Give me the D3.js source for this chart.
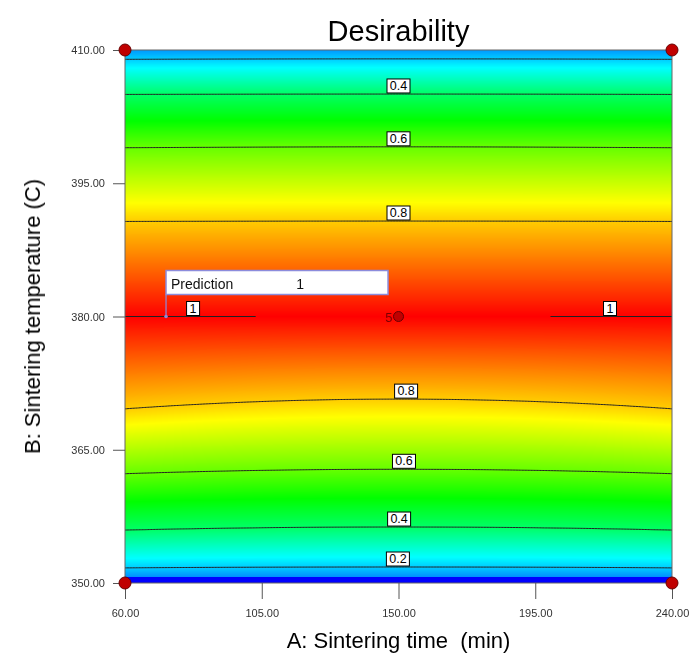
<!DOCTYPE html>
<html lang="en">
<head>
<meta charset="UTF-8">
<title>Desirability</title>
<script src="https://d3js.org/d3.v7.min.js"></script>
<style>
  body { margin: 0; background: #fff; font-family: Arial, "Liberation Sans", sans-serif; }
  #wrap { position: relative; width: 690px; height: 655px; }
  #field { position: absolute; left: 125px; top: 50px; }
  svg { position: absolute; left: 0; top: 0; }
</style>
</head>
<body>
<div id="wrap">
  <canvas id="field"></canvas>
  <svg id="chart" width="690" height="655"></svg>
</div>
<script>
// axis ticks
const timeTicks = [60, 105, 150, 195, 240];
const tempTicks = [350, 365, 380, 395, 410];

// desirability profile along B at A = 150 (mid) and at A = 60 / 240 (edge)
const profD     = [0,   0,      0.14,   0.2,   0.4,    0.6,   0.8,   1,   0.8,    0.6,   0.4,    0.2,    0.15];
const profTmid  = [350, 350.68, 350.69, 351.8, 356.3,  362.8, 370.7, 380, 390.75, 399.1, 405.05, 409.0,  410];
const profTedge = [350, 350.68, 350.69, 351.7, 355.95, 362.3, 369.6, 380, 390.7,  399.0, 405.0,  408.95, 410];

const contourLevels = [0.2, 0.4, 0.6, 0.8];

// the level 1 line only shows up near the edges, at B = 380
const oneT = 380;
const oneSegments = [[60, 103], [200, 240]];

// contour labels
const labelLevels = [0.4, 0.6, 0.8, 0.8, 0.6, 0.4, 0.2, 1, 1];
const labelA      = [150, 150, 150, 152.5, 151.8, 150.2, 149.8, 82.4, 219.6];
const labelSide   = ["top", "top", "top", "bottom", "bottom", "bottom", "bottom", "mid", "mid"];

// design points
const cornerA = [60, 60, 240, 240];
const cornerT = [350, 410, 350, 410];
const centerA = 150, centerT = 380, centerReps = 5;

// prediction flag
const predA = 73.5, predT = 380, predValue = 1;

const margin = {left: 125, top: 50, right: 18, bottom: 72};
const W = 690, H = 655;
const pw = W - margin.left - margin.right;   // 547
const ph = H - margin.top - margin.bottom;   // 533

const x = d3.scaleLinear().domain([60, 240]).range([margin.left, margin.left + pw]);
const y = d3.scaleLinear().domain([350, 410]).range([margin.top + ph, margin.top]);

const colour = d3.scaleLinear()
    .domain([0, 0.25, 0.5, 0.75, 1])
    .range(["#0000ff", "#00ffff", "#00ff00", "#ffff00", "#ff0000"])
    .clamp(true);

// blend between mid and edge readings (symmetric about A = 150)
const edgeWeight = a => Math.pow((a - 150) / 90, 2);
const columnT = a => {
  const w = edgeWeight(a);
  return profTmid.map((t, i) => t + w * (profTedge[i] - t));
};
const columnScale = a => d3.scaleLinear().domain(columnT(a)).range(profD);

const levelT = (level, a, side) => {
  let idx;
  if (side === "mid") idx = profD.indexOf(1);
  else if (side === "top") idx = profD.lastIndexOf(level);
  else idx = profD.indexOf(level);
  return columnT(a)[idx];
};

// ---- colour field on canvas
const canvas = document.getElementById("field");
canvas.width = pw; canvas.height = ph;
const ctx = canvas.getContext("2d");
const img = ctx.createImageData(pw, ph);
const lut = d3.range(1001).map(i => d3.rgb(colour(i / 1000)));
for (let px = 0; px < pw; px++) {
  const s = columnScale(x.invert(margin.left + px + 0.5));
  for (let py = 0; py < ph; py++) {
    const v = Math.max(0, Math.min(1, s(y.invert(margin.top + py + 0.5))));
    const c = lut[Math.round(v * 1000)];
    const k = (py * pw + px) * 4;
    img.data[k] = c.r; img.data[k + 1] = c.g; img.data[k + 2] = c.b; img.data[k + 3] = 255;
  }
}
ctx.putImageData(img, 0, 0);

// ---- svg
const svg = d3.select("#chart");

svg.append("defs").append("clipPath").attr("id", "plotClip")
  .append("rect").attr("x", margin.left).attr("y", margin.top).attr("width", pw).attr("height", ph);

// contour grid (a bit larger than the plot so the ring edges fall outside the clip)
const a0 = 50, sa = 0.5, nx = 401;
const t0 = 348, st = 0.1, ny = 641;
const values = new Float64Array(nx * ny);
for (let i = 0; i < nx; i++) {
  const s = columnScale(a0 + i * sa);
  for (let j = 0; j < ny; j++) values[j * nx + i] = s(t0 + j * st);
}
const contours = d3.contours().size([nx, ny]).thresholds(contourLevels)(values);
const path = d3.geoPath(d3.geoTransform({
  point(cx, cy) { this.stream.point(x(a0 + (cx - 0.5) * sa), y(t0 + (cy - 0.5) * st)); }
}));

const lines = svg.append("g").attr("clip-path", "url(#plotClip)");
lines.selectAll("path.contour")
  .data(contours)
  .join("path")
  .attr("class", "contour")
  .attr("d", path)
  .attr("fill", "none")
  .attr("stroke", "#222")
  .attr("stroke-width", 1);

lines.selectAll("line.one")
  .data(oneSegments)
  .join("line")
  .attr("class", "one")
  .attr("x1", d => x(d[0])).attr("x2", d => x(d[1]))
  .attr("y1", y(oneT)).attr("y2", y(oneT))
  .attr("stroke", "#222").attr("stroke-width", 1);

// plot border
svg.append("rect")
  .attr("x", margin.left).attr("y", margin.top).attr("width", pw).attr("height", ph)
  .attr("fill", "none").attr("stroke", "#666").attr("stroke-width", 1);

// contour labels
const labG = svg.append("g").attr("font-size", 12.5).attr("fill", "#000");
labelLevels.forEach((lv, i) => {
  const a = labelA[i];
  const ly = y(levelT(lv, a, labelSide[i]));
  const txt = lv === 1 ? "1" : lv.toFixed(1);
  const bw = lv === 1 ? 13 : 23, bh = 14;
  const g = labG.append("g").attr("transform", `translate(${x(a)},${ly})`);
  g.append("rect").attr("x", -bw / 2).attr("y", -bh - 1).attr("width", bw).attr("height", bh)
    .attr("fill", "#fff").attr("stroke", "#000").attr("stroke-width", 1);
  g.append("text").attr("x", 0).attr("y", -4).attr("text-anchor", "middle").text(txt);
});

// axes
const yAxis = d3.axisLeft(y).tickValues(tempTicks).tickFormat(d3.format(".2f")).tickSize(12).tickPadding(8);
const xAxis = d3.axisBottom(x).tickValues(timeTicks).tickFormat(d3.format(".2f")).tickSize(16).tickPadding(10);

const gy = svg.append("g").attr("transform", `translate(${margin.left},0)`).call(yAxis);
const gx = svg.append("g").attr("transform", `translate(0,${margin.top + ph})`).call(xAxis);
[gx, gy].forEach(g => {
  g.select(".domain").remove();
  g.selectAll(".tick line").attr("stroke", "#555");
  g.selectAll(".tick text").attr("fill", "#333").attr("font-size", 11)
    .attr("font-family", "Arial, 'Liberation Sans', sans-serif");
});

// design points
svg.append("g").selectAll("circle")
  .data(d3.range(cornerA.length))
  .join("circle")
  .attr("cx", i => x(cornerA[i])).attr("cy", i => y(cornerT[i]))
  .attr("r", 6).attr("fill", "#c00000").attr("stroke", "#6a0000").attr("stroke-width", 1);

svg.append("circle")
  .attr("cx", x(centerA)).attr("cy", y(centerT)).attr("r", 5)
  .attr("fill", "#c00000").attr("stroke", "#6a0000").attr("stroke-width", 1);
svg.append("text")
  .attr("x", x(centerA) - 6).attr("y", y(centerT) + 5)
  .attr("text-anchor", "end").attr("font-size", 13).attr("fill", "#7a0000")
  .text(centerReps);

// prediction flag
const fx = x(predA), fy = y(predT);
svg.append("line").attr("x1", fx).attr("x2", fx).attr("y1", fy).attr("y2", fy - 22)
  .attr("stroke", "#8c8cdc").attr("stroke-width", 1.2);
svg.append("circle").attr("cx", fx).attr("cy", fy).attr("r", 1.8).attr("fill", "#8c8cdc");
svg.append("rect").attr("x", fx).attr("y", fy - 46).attr("width", 222).attr("height", 24)
  .attr("fill", "#fff").attr("stroke", "#8c8cdc").attr("stroke-width", 1.5);
svg.append("text").attr("x", fx + 5).attr("y", fy - 28).attr("font-size", 14).attr("fill", "#111")
  .text("Prediction");
svg.append("text").attr("x", fx + 134).attr("y", fy - 28).attr("font-size", 14).attr("fill", "#111")
  .attr("text-anchor", "middle").text(predValue);

// titles
svg.append("text").attr("x", x(150)).attr("y", 41).attr("text-anchor", "middle")
  .attr("font-size", 29).attr("fill", "#000").text("Desirability");
svg.append("text").attr("x", x(150)).attr("y", 648).attr("text-anchor", "middle")
  .attr("font-size", 22).attr("fill", "#000").style("white-space", "pre")
  .text("A: Sintering time  (min)");
svg.append("text").attr("transform", `translate(40,${y(380)}) rotate(-90)`).attr("text-anchor", "middle")
  .attr("font-size", 22).attr("fill", "#000").text("B: Sintering temperature (C)");
</script>
</body>
</html>
